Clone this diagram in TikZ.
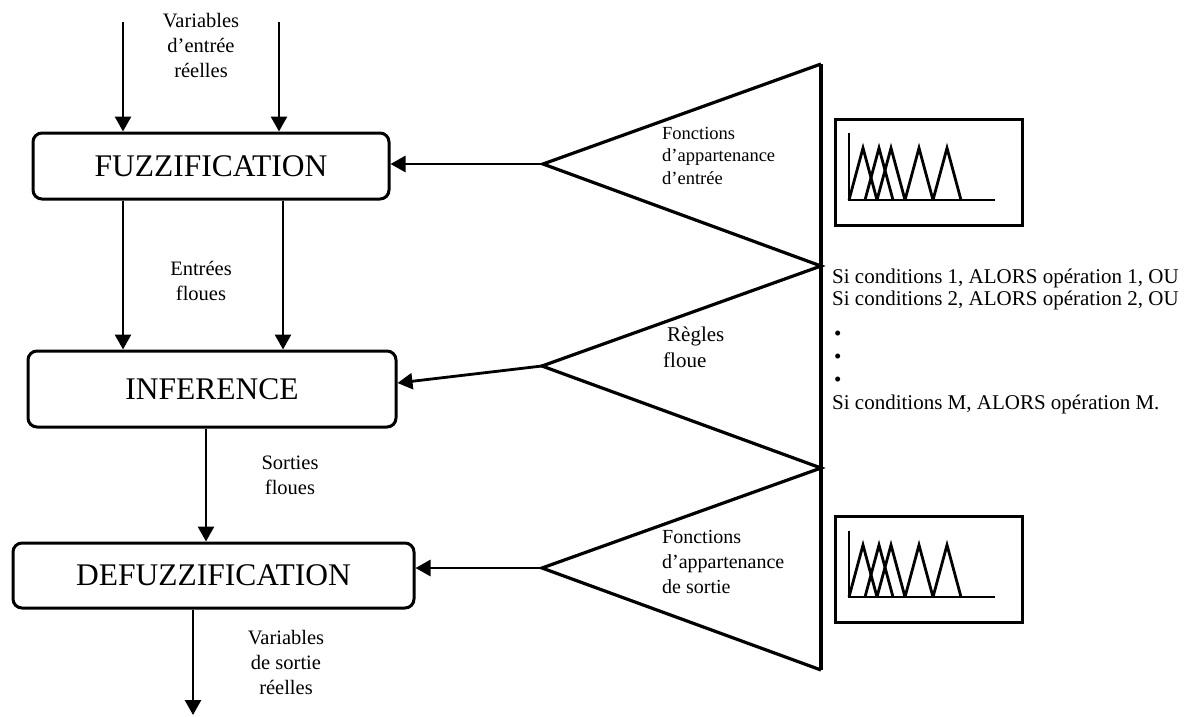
\documentclass[tikz,border=0pt]{standalone}
\usepackage{fontspec}
\setmainfont{Liberation Serif}
\usetikzlibrary{arrows.meta}
\begin{document}
\begin{tikzpicture}[x=1pt,y=-1pt,
  blk/.style={draw, line width=3pt, rounded corners=9pt, inner sep=0pt, font=\fontsize{31.5}{36}\selectfont},
  arr/.style={line width=2.8pt, -{Triangle[length=15pt,width=16pt]}},
  lbl/.style={align=center, font=\fontsize{20.5}{25}\selectfont, inner sep=0pt},
  tlbl/.style={align=left, inner sep=0pt, anchor=north west},
  rule/.style={anchor=west, inner sep=0pt, font=\fontsize{21}{23}\selectfont},
  tri/.style={line width=3.2pt, line join=miter},
  mfbox/.style={line width=3pt},
  mf/.style={line width=2.8pt, line join=miter}]
\useasboundingbox (0,0) rectangle (1197,716);

% main blocks
\node[blk, minimum width=356pt, minimum height=66pt] (fuzz) at (211,166) {FUZZIFICATION};
\node[blk, minimum width=368pt, minimum height=76pt] (inf) at (212,389) {INFERENCE};
\node[blk, minimum width=401pt, minimum height=65pt] (defuzz) at (213.5,575.5) {DEFUZZIFICATION};

% helper coordinates
\coordinate (in1) at (123,22);
\coordinate (in2) at (279,22);
\coordinate (m2) at (283,0);
\coordinate (c3) at (206,0);
\coordinate (out) at (193,715);

% triangles
\coordinate (t1tip) at (543,164);
\coordinate (t2tip) at (542,366);
\coordinate (t3tip) at (542,568);
\coordinate (v0) at (821,64);
\coordinate (v1) at (821,266);
\coordinate (v2) at (821,468);
\coordinate (v3) at (821,670);
\draw[tri] (v0) -- (v3);
\draw[tri] (v0) -- (t1tip) -- (v1) -- (t2tip) -- (v2) -- (t3tip) -- (v3);

% arrows
\draw[arr] (in1) -- (in1 |- fuzz.north);
\draw[arr] (in2) -- (in2 |- fuzz.north);
\draw[arr] (fuzz.south -| in1) -- (inf.north -| in1);
\draw[arr] (fuzz.south -| m2) -- (inf.north -| m2);
\draw[arr] (inf.south -| c3) -- (defuzz.north -| c3);
\draw[arr] (defuzz.south -| out) -- (out);
\draw[arr] (t1tip) -- (t1tip -| fuzz.east);
\draw[arr] (t2tip) -- ([yshift=6pt]inf.east);
\draw[arr] (t3tip) -- (t3tip -| defuzz.east);

% labels
\node[lbl] (lin) at (201,45) {Variables\\d’entrée\\réelles};
\node[lbl] (lfl) at (201,281) {Entrées\\floues};
\node[lbl] (lso) at (290,475.5) {Sorties\\floues};
\node[lbl] (lout) at (286,662) {Variables\\de sortie\\réelles};

\node[tlbl, font=\fontsize{18.5}{22.5}\selectfont] (tf1) at (662,127) {Fonctions\\d’appartenance\\d’entrée};
\node[tlbl, font=\fontsize{21}{26}\selectfont] (tf2) at (663,327) {\hspace{4pt}Règles\\floue};
\node[tlbl, font=\fontsize{20}{25}\selectfont] (tf3) at (662,530) {Fonctions\\d’appartenance\\de sortie};

% rules
\node[rule] (r1) at (832,278) {Si conditions 1, ALORS opération 1, OU};
\node[rule] (r2) at (832,300.5) {Si conditions 2, ALORS opération 2, OU};
\node[rule] (r3) at (834,336) {•};
\node[rule] (r4) at (834,359) {•};
\node[rule] (r5) at (834,382) {•};
\node[rule] (r6) at (832,404) {Si conditions M, ALORS opération M.};

% membership function plots
\draw[mfbox] (835,119) rectangle (1022,225);
\begin{scope}[shift={(849,200)}]
  \draw[mf] (0,-67) -- (0,0) -- (146,0);
  \foreach \p in {14,30,42,70,98}
    \draw[mf] (\p-14,0) -- (\p,-52) -- (\p+14,0);
\end{scope}
\draw[mfbox] (835,516) rectangle (1022,622);
\begin{scope}[shift={(849,597)}]
  \draw[mf] (0,-66) -- (0,0) -- (146,0);
  \foreach \p in {14,30,42,70,98}
    \draw[mf] (\p-14,0) -- (\p,-52) -- (\p+14,0);
\end{scope}
\end{tikzpicture}
\end{document}
